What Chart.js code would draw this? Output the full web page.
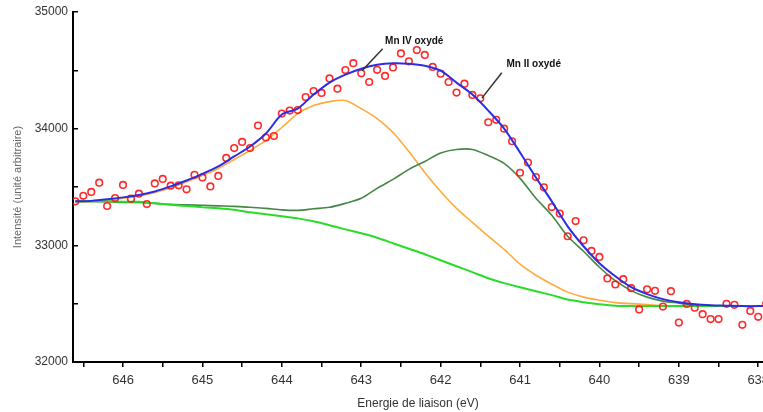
<!DOCTYPE html>
<html>
<head>
<meta charset="utf-8">
<script src="https://cdn.jsdelivr.net/npm/chart.js@4.4.1/dist/chart.umd.min.js"></script>
<style>
html, body { margin: 0; padding: 0; background: #fff; overflow: hidden; }
#wrap { width: 800px; height: 412px; }
</style>
</head>
<body>
<div id="wrap"><canvas id="xps" width="800" height="412"></canvas></div>
<script>
// ===== données =====
const energies = [646.6, 646.4, 646.2, 646.0, 645.8, 645.6, 645.4, 645.2, 645.0, 644.8,
  644.6, 644.4, 644.2, 644.0, 643.8, 643.6, 643.4, 643.2, 643.0, 642.8,
  642.6, 642.4, 642.2, 642.0, 641.8, 641.6, 641.4, 641.2, 641.0, 640.8,
  640.6, 640.4, 640.2, 640.0, 639.8, 639.6, 639.4, 639.2, 639.0, 638.8,
  638.6, 638.4, 638.2, 638.0, 637.9];

// enveloppe totale (bleu)
const fitTotal = [33377, 33381, 33394, 33411, 33432, 33462, 33505, 33556, 33612, 33676,
  33762, 33847, 33958, 34121, 34172, 34292, 34395, 34463, 34514, 34548,
  34561, 34557, 34540, 34497, 34395, 34292, 34155, 34001, 33796, 33582,
  33377, 33163, 32992, 32847, 32735, 32641, 32582, 32539, 32513, 32496,
  32487, 32483, 32479, 32479, 32479];

// composante Mn IV (orange)
const mnIV = [33373, 33377, 33385, 33403, 33424, 33454, 33492, 33544, 33599, 33659,
  33736, 33813, 33899, 34010, 34129, 34198, 34232, 34241, 34172, 34087,
  33967, 33804, 33625, 33462, 33317, 33197, 33078, 32966, 32838, 32744,
  32667, 32599, 32556, 32530, 32509, 32500, 32492, 32483, 32479, 32479,
  32479, 32479, 32479, 32479, 32479];

// composante Mn II (vert foncé)
const mnII = [33377, 33377, 33373, 33368, 33368, 33360, 33351, 33347, 33343, 33338,
  33334, 33326, 33317, 33304, 33300, 33313, 33326, 33360, 33403, 33488,
  33565, 33651, 33719, 33792, 33822, 33822, 33770, 33702, 33574, 33403,
  33257, 33078, 32949, 32812, 32697, 32612, 32556, 32522, 32505, 32487,
  32483, 32479, 32479, 32479, 32479];

// fond (vert clair)
const baseline = [33377, 33377, 33377, 33373, 33373, 33360, 33347, 33338, 33326, 33317,
  33304, 33283, 33266, 33249, 33231, 33206, 33172, 33137, 33103, 33065,
  33018, 32971, 32924, 32872, 32821, 32770, 32718, 32676, 32641, 32607,
  32573, 32535, 32513, 32496, 32483, 32479, 32479, 32479, 32479, 32479,
  32479, 32479, 32479, 32479, 32479];

// points expérimentaux (cercles rouges)
const pointEnergies = [646.6, 646.5, 646.4, 646.3, 646.2, 646.1, 646.0, 645.9, 645.8, 645.7,
  645.6, 645.5, 645.4, 645.3, 645.2, 645.1, 645.0, 644.9, 644.8, 644.7,
  644.6, 644.5, 644.4, 644.3, 644.2, 644.1, 644.0, 643.9, 643.8, 643.7,
  643.6, 643.5, 643.4, 643.3, 643.2, 643.1, 643.0, 642.9, 642.8, 642.7,
  642.6, 642.5, 642.4, 642.3, 642.2, 642.1, 642.0, 641.9, 641.8, 641.7,
  641.6, 641.5, 641.4, 641.3, 641.2, 641.1, 641.0, 640.9, 640.8, 640.7,
  640.6, 640.5, 640.4, 640.3, 640.2, 640.1, 640.0, 639.9, 639.8, 639.7,
  639.6, 639.5, 639.4, 639.3, 639.2, 639.1, 639.0, 638.9, 638.8, 638.7,
  638.6, 638.5, 638.4, 638.3, 638.2, 638.1, 638.0, 637.9];
const pointCounts = [33377, 33424, 33458, 33537, 33337, 33405, 33518, 33400, 33443, 33354,
  33531, 33569, 33511, 33514, 33480, 33604, 33582, 33505, 33595, 33749,
  33834, 33886, 33834, 34027, 33924, 33937, 34129, 34155, 34159, 34271,
  34322, 34306, 34431, 34343, 34503, 34561, 34474, 34400, 34504, 34452,
  34525, 34645, 34577, 34674, 34632, 34529, 34471, 34400, 34309, 34386,
  34289, 34260, 34055, 34076, 34000, 33892, 33622, 33710, 33585, 33497,
  33328, 33272, 33078, 33208, 33043, 32952, 32901, 32716, 32665, 32710,
  32633, 32451, 32623, 32610, 32475, 32607, 32338, 32498, 32466, 32410,
  32368, 32368, 32499, 32490, 32319, 32438, 32387, 32499];

const yTicks = { min: 32000, max: 35000, step: 500 };
const xRange = { min: 637.94, max: 646.63, step: 0.5 };

// étiquettes (texte, position du texte, trait de rappel)
const notes = [
  { text: 'Mn IV oxydé', at: [642.70, 34748], from: [642.73, 34685], to: [642.99, 34497] },
  { text: 'Mn II oxydé', at: [641.17, 34548], from: [641.23, 34480], to: [641.48, 34262] }
];

const toXY = (xs, ys) => xs.map((x, i) => ({ x: x, y: ys[i] }));

// ===== petit plugin pour les étiquettes =====
const notesPlugin = {
  id: 'notes',
  afterDatasetsDraw(chart) {
    const { ctx, scales: { x, y } } = chart;
    ctx.save();
    notes.forEach(n => {
      ctx.strokeStyle = '#333';
      ctx.lineWidth = 1.5;
      ctx.beginPath();
      ctx.moveTo(x.getPixelForValue(n.from[0]), y.getPixelForValue(n.from[1]));
      ctx.lineTo(x.getPixelForValue(n.to[0]), y.getPixelForValue(n.to[1]));
      ctx.stroke();
      ctx.fillStyle = '#111';
      ctx.font = 'bold 10px "Liberation Sans", Arial, sans-serif';
      ctx.textBaseline = 'middle';
      ctx.textAlign = 'left';
      ctx.fillText(n.text, x.getPixelForValue(n.at[0]), y.getPixelForValue(n.at[1]));
    });
    ctx.restore();
  }
};

Chart.defaults.font.family = '"Liberation Sans", Arial, sans-serif';

new Chart(document.getElementById('xps'), {
  type: 'line',
  data: {
    datasets: [
      {
        label: 'enveloppe',
        data: toXY(energies, fitTotal),
        borderColor: 'rgb(45,45,225)',
        borderWidth: 2,
        pointRadius: 0,
        tension: 0.3
      },
      {
        label: 'mesure',
        data: toXY(pointEnergies, pointCounts),
        showLine: false,
        pointStyle: 'circle',
        pointRadius: 3.3,
        pointBorderWidth: 1.6,
        pointBorderColor: 'rgba(255,20,20,0.9)',
        pointBackgroundColor: 'rgba(0,0,0,0)'
      },
      {
        label: 'fond',
        data: toXY(energies, baseline),
        borderColor: 'rgb(40,220,40)',
        borderWidth: 2,
        pointRadius: 0,
        tension: 0.2
      },
      {
        label: 'Mn II',
        data: toXY(energies, mnII),
        borderColor: 'rgb(70,135,70)',
        borderWidth: 1.6,
        pointRadius: 0,
        tension: 0.3
      },
      {
        label: 'Mn IV',
        data: toXY(energies, mnIV),
        borderColor: 'rgb(255,170,60)',
        borderWidth: 1.6,
        pointRadius: 0,
        tension: 0.3
      }
    ]
  },
  options: {
    responsive: false,
    animation: false,
    layout: { padding: { top: 12, right: 37, left: 0, bottom: 0 } },
    plugins: {
      legend: { display: false },
      tooltip: { enabled: false }
    },
    scales: {
      x: {
        type: 'linear',
        reverse: true,
        min: xRange.min,
        max: xRange.max,
        border: { color: '#000', width: 2 },
        grid: { drawOnChartArea: false, tickLength: 5, color: '#000', lineWidth: 1.5 },
        ticks: {
          stepSize: xRange.step,
          includeBounds: false,
          autoSkip: false,
          maxRotation: 0,
          padding: 6,
          color: '#333',
          font: { size: 13 },
          callback: v => Number.isInteger(v) ? String(v) : ''
        },
        title: {
          display: true,
          text: 'Energie de liaison (eV)',
          color: '#333',
          font: { size: 12 },
          padding: { top: 0, bottom: 1 }
        },
        afterFit: s => { s.height = 50; }
      },
      y: {
        min: yTicks.min,
        max: yTicks.max,
        border: { color: '#000', width: 2 },
        grid: { drawOnChartArea: false, tickLength: -5, color: '#000', lineWidth: 1.5 },
        ticks: {
          stepSize: yTicks.step,
          padding: 10,
          color: '#333',
          font: { size: 12 },
          callback: v => v % 1000 === 0 ? String(v) : ''
        },
        title: {
          display: true,
          text: 'Intensité (unité arbitraire)',
          color: '#666',
          font: { size: 11 },
          padding: { top: 11, bottom: 0 }
        },
        // largeur fixe, et pas de marge ajoutée en haut pour l'étiquette 35000
        afterFit: s => { s.width = 73; s.paddingTop = 0; s.paddingBottom = 0; }
      }
    }
  },
  plugins: [notesPlugin]
});
</script>
</body>
</html>
